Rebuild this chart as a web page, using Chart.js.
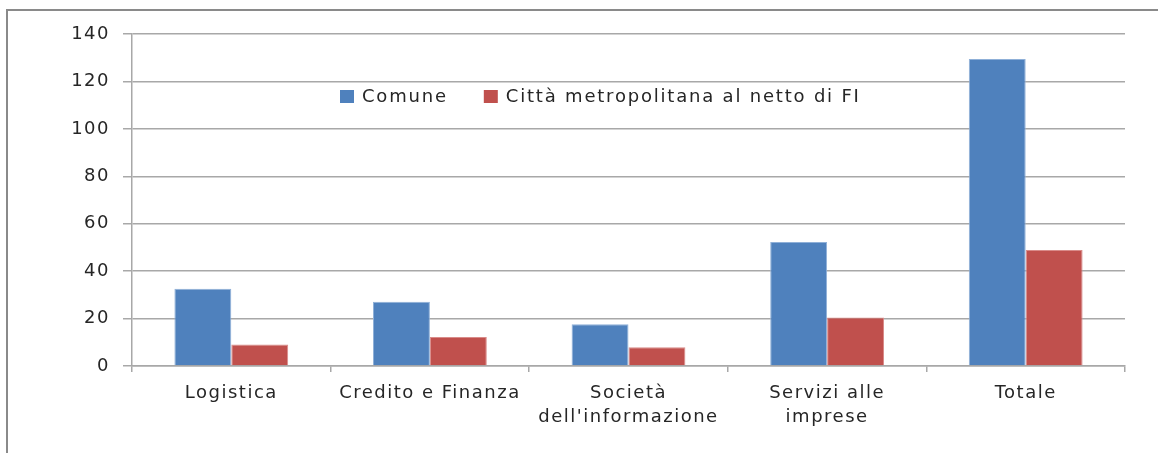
<!DOCTYPE html>
<html><head><meta charset="utf-8">
<script src="https://cdn.jsdelivr.net/npm/chart.js@4/dist/chart.umd.min.js"></script>
<style>
html,body{margin:0;padding:0;background:#fff;}
#wrap{position:relative;width:1158px;height:453px;overflow:hidden;}
#frame{position:absolute;left:6px;top:9px;width:1200px;height:500px;border-top:2px solid #8a8a8a;border-left:2px solid #8a8a8a;}
canvas{position:absolute;left:0;top:0;}
</style></head>
<body>
<div id="wrap"><div id="frame"></div><canvas id="c" width="1158" height="453"></canvas></div>
<script>
const categories = ["Logistica", "Credito e Finanza", ["Società", "dell'informazione"], ["Servizi alle", "imprese"], "Totale"];
const comune = [32.6, 27.1, 17.6, 52.3, 129.5];
const cittaMetro = [9.1, 12.2, 7.9, 20.4, 48.9];
const seriesNames = ["Comune", "Città metropolitana al netto di FI"];
const yTicks = [0, 20, 40, 60, 80, 100, 120, 140];

const FONT = "'DejaVu Sans', sans-serif";
const TXT = '#262626';
const GRID = '#a8a8a8';

const spacing = {
  id: 'spacing',
  beforeInit(chart) { chart.ctx.letterSpacing = '1.5px'; },
  beforeDraw(chart) { chart.ctx.letterSpacing = '1.5px'; }
};

const legendInside = {
  id: 'legendInside',
  afterDatasetsDraw(chart) {
    const ctx = chart.ctx;
    ctx.save();
    ctx.letterSpacing = '1.8px';
    ctx.font = '18px ' + FONT;
    ctx.textBaseline = 'middle';
    const y = 96;
    let x = 340;
    chart.data.datasets.forEach((ds, i) => {
      ctx.fillStyle = ds.backgroundColor;
      ctx.fillRect(x, y - 6, 14, 13);
      ctx.fillStyle = TXT;
      ctx.fillText(ds.label, x + 22, y + 1);
      x += 22 + ctx.measureText(ds.label).width + 36;
    });
    ctx.restore();
  }
};

new Chart(document.getElementById('c'), {
  type: 'bar',
  data: {
    labels: categories,
    datasets: [
      { label: seriesNames[0], data: comune, backgroundColor: '#4f81bd', borderColor: '#8fb0d8', borderWidth: 1, barPercentage: 1, categoryPercentage: 0.573 },
      { label: seriesNames[1], data: cittaMetro, backgroundColor: '#c0504d', borderColor: '#d98b89', borderWidth: 1, barPercentage: 1, categoryPercentage: 0.573 }
    ]
  },
  options: {
    responsive: false,
    animation: false,
    devicePixelRatio: 1,
    layout: { padding: { left: 0, right: 33, top: 34, bottom: 0 } },
    plugins: { legend: { display: false }, tooltip: { enabled: false } },
    scales: {
      x: {
        grid: { display: true, drawOnChartArea: false, drawTicks: true, tickLength: 6, color: GRID, lineWidth: 1.5, offset: true },
        border: { display: true, color: GRID, width: 1.5 },
        ticks: { color: TXT, font: { family: FONT, size: 18, lineHeight: 1.33 }, padding: 9, maxRotation: 0, autoSkip: false },
        afterFit: s => { s.height = 87; }
      },
      y: {
        min: 0, max: 140,
        afterBuildTicks: s => { s.ticks = yTicks.map(v => ({ value: v })); },
        grid: { color: GRID, lineWidth: 1.5, tickLength: 9, drawTicks: true },
        border: { display: true, color: GRID, width: 1.5 },
        ticks: { color: TXT, font: { family: FONT, size: 18 }, padding: 13 },
        afterFit: s => { s.width = 132; }
      }
    }
  },
  plugins: [spacing, legendInside]
});
</script>
</body></html>
